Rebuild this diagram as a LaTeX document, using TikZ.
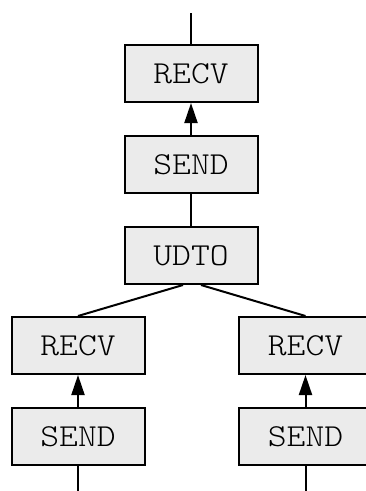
\documentclass[tikz,border=0pt]{standalone}
\usepackage{fontspec}
\newfontfamily\opfont{Latin Modern Mono Light}[FakeStretch=1.12]
\usetikzlibrary{arrows.meta,calc}
\definecolor{boxfill}{HTML}{EBEBEB}
\tikzset{
  opbox/.style={draw=black, fill=boxfill, line width=2pt, minimum width=133pt, minimum height=57pt, inner sep=0pt, font=\fontsize{32}{32}\selectfont\opfont},
  conn/.style={line width=2pt},
  arr/.style={line width=2pt, -{Triangle[length=20pt,width=13pt]}}
}
\begin{document}
\begin{tikzpicture}[x=1pt,y=-1pt]
\clip (0,0) rectangle (366,491);
\useasboundingbox (0,0) rectangle (366,491);
\node[opbox] (r0) at (191,73.5) {RECV};
\node[opbox] (s0) at (191,164.5) {SEND};
\node[opbox] (u) at (191,255.5) {UDTO};
\node[opbox] (r1) at (78,345.5) {RECV};
\node[opbox] (s1) at (78,436.5) {SEND};
\node[opbox] (r2) at (305.5,345.5) {RECV};
\node[opbox] (s2) at (305.5,436.5) {SEND};
\coordinate (top) at (191,13);
\coordinate (b1) at (78,491);
\coordinate (b2) at (305.5,491);
\draw[conn] (top) -- (r0.north);
\draw[arr] (s0.north) -- (r0.south);
\draw[conn] (s0.south) -- (u.north);
\draw[conn] ($(u.south)+(-8,0)$) -- (r1.north);
\draw[conn] ($(u.south)+(10,0)$) -- (r2.north);
\draw[arr] (s1.north) -- (r1.south);
\draw[arr] (s2.north) -- (r2.south);
\draw[conn] (s1.south) -- (b1);
\draw[conn] (s2.south) -- (b2);
\end{tikzpicture}
\end{document}
